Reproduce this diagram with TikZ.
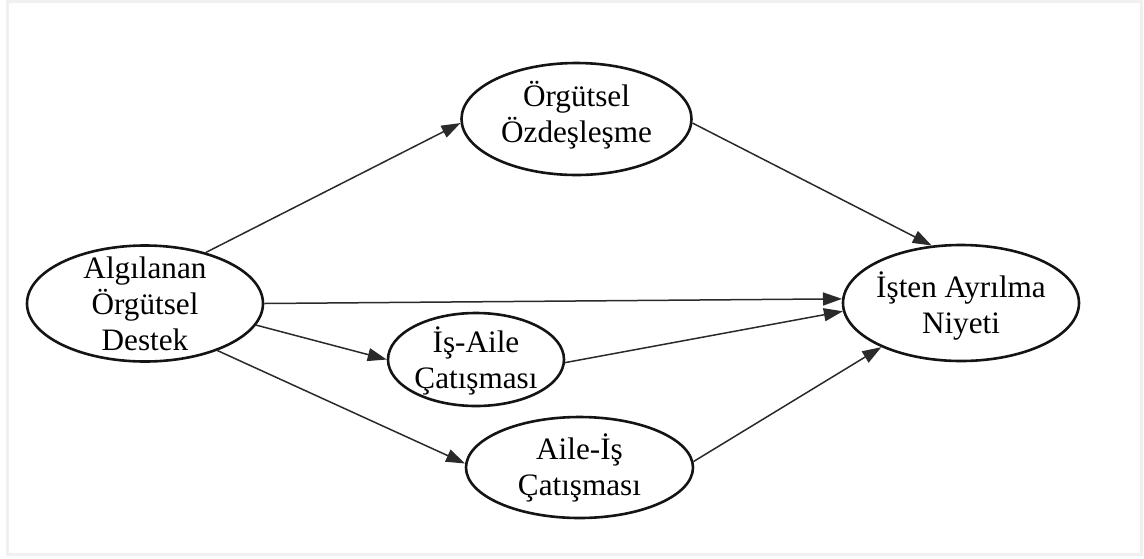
\documentclass[tikz,border=0pt]{standalone}
\usepackage{fontspec}
\setmainfont{Liberation Serif}
\usetikzlibrary{shapes.geometric,arrows.meta}

\definecolor{framegray}{HTML}{F0F0F0}
\definecolor{linegray}{HTML}{2A2A2A}

\tikzset{
  construct/.style={ellipse, draw=black!92, line width=2.6pt, inner sep=0pt},
  caption/.style={align=center, inner sep=0pt,
    font=\fontsize{31.2}{36}\selectfont},
  path/.style={draw=linegray, line width=1.5pt,
    -{Triangle[length=19pt,width=13pt]}, color=linegray},
}

\begin{document}
\begin{tikzpicture}[x=1pt, y=-1pt]
  \useasboundingbox (0,0) rectangle (1144,558);
  % outer frame
  \draw[framegray, line width=3pt] (7.5,1.5) rectangle (1141.5,554.5);

  % constructs (ellipses)
  \node[construct, minimum width=236pt, minimum height=116pt] (aos) at (145,303.5) {};
  \node[construct, minimum width=230pt, minimum height=112pt] (oz)  at (576.5,119) {};
  \node[construct, minimum width=236pt, minimum height=116pt] (ian) at (961,303) {};
  \node[construct, minimum width=176pt, minimum height=93pt]  (iac) at (476,359.5) {};
  \node[construct, minimum width=227pt, minimum height=101pt] (aic) at (579.5,467.5) {};

  % construct labels
  \node[caption] (aosT) at (145,304) {Algılanan\\Örgütsel\\Destek};
  \node[caption] (ozT)  at (576.5,115) {Örgütsel\\Özdeşleşme};
  \node[caption] (ianT) at (961,306) {İşten Ayrılma\\Niyeti};
  \node[caption] (iacT) at (476,361) {İş-Aile\\Çatışması};
  \node[caption] (aicT) at (579.5,467.5) {Aile-İş\\Çatışması};

  % hypothesised paths
  \draw[path] (aos.40)  -- (oz.182);
  \draw[path] (oz.358)  -- (ian.117);
  \draw[path] (aos.0)   -- (ian.178);
  \draw[path] (aos.-11.5) -- (iac.180);
  \draw[path] (iac.358) -- (ian.184);
  \draw[path] (aos.-33.5) -- (aic.178);
  \draw[path] (aic.3)   -- (ian.209);
\end{tikzpicture}
\end{document}
